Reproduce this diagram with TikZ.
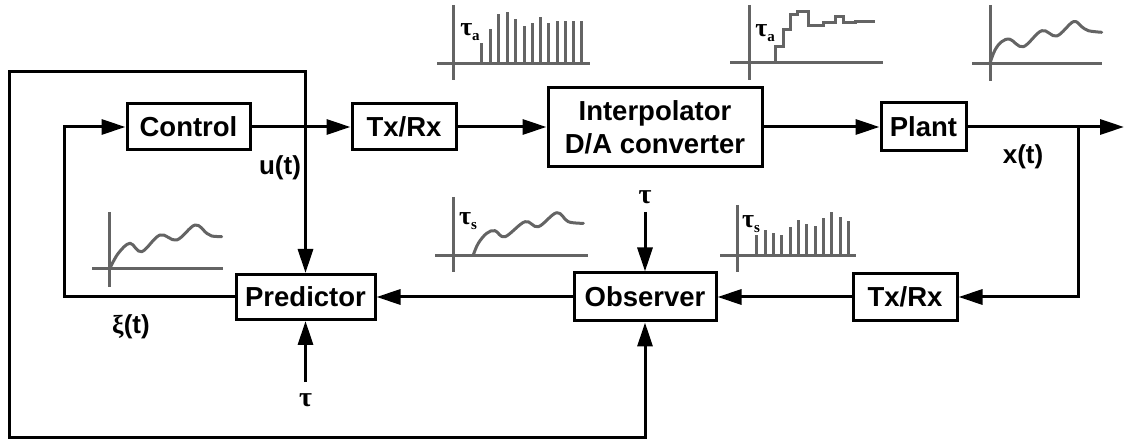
\documentclass[tikz,border=0pt]{standalone}
\usepackage{fontspec}
\setmainfont{Liberation Sans}
\newfontfamily\serifgreek{Liberation Serif}
\usetikzlibrary{arrows.meta}
\definecolor{plotgray}{RGB}{100,100,100}
\begin{document}
\begin{tikzpicture}[x=1pt,y=-1pt,
  box/.style={draw, line width=3pt, inner sep=0pt, align=center,
    font=\fontsize{27.5}{33}\selectfont\bfseries},
  wire/.style={line width=3pt},
  arr/.style={wire, -{Triangle[length=24pt,width=15pt]}},
  arrtwo/.style={wire, {Triangle[length=24pt,width=15pt]}-{Triangle[length=24pt,width=15pt]}},
  lbl/.style={inner sep=0pt, font=\fontsize{26}{30}\selectfont\bfseries},
  taulbl/.style={inner sep=0pt, font=\serifgreek\fontsize{28}{30}\selectfont\bfseries},
  plbl/.style={inner sep=0pt, font=\serifgreek\fontsize{26}{26}\selectfont\bfseries},
  pl/.style={plotgray, line width=3pt},
  crv/.style={plotgray, line width=3pt, line join=round, line cap=round}
]
\useasboundingbox (0,0) rectangle (1124,443);

% blocks
\node[box, minimum width=123pt, minimum height=46pt] (ctrl) at (188.5,127) {Control};
\node[box, minimum width=104pt, minimum height=46pt] (tx1) at (404,127) {Tx/Rx};
\node[box, minimum width=214pt, minimum height=79pt] (interp) at (655,127) {Interpolator\\D/A converter};
\node[box, minimum width=85pt, minimum height=48pt] (plant) at (923.5,127) {Plant};
\node[box, minimum width=139pt, minimum height=45pt] (pred) at (305.5,297) {Predictor};
\node[box, minimum width=142pt, minimum height=48pt] (obs) at (645,297) {Observer};
\node[box, minimum width=104pt, minimum height=47pt] (tx2) at (905,297) {Tx/Rx};

% coordinates for connectors
\coordinate (out) at (1124,127);
\coordinate (br) at (1078,127);
\coordinate (brd) at (1078,297);
\coordinate (fbl) at (64,297);
\coordinate (fbt) at (64,127);
\coordinate (olt) at (9,72);
\coordinate (otr) at (305.5,72);
\coordinate (olb) at (9,437);
\coordinate (obr) at (645,437);
\coordinate (tauP) at (305.5,382);
\coordinate (tauO) at (645,212);

% connectors
\draw[arr] (ctrl.east) -- (tx1.west);
\draw[arr] (tx1.east) -- (interp.west);
\draw[arr] (interp.east) -- (plant.west);
\draw[arr] (plant.east) -- (out);
\draw[arr] (br) -- (brd) -- (tx2.east);
\draw[arr] (tx2.west) -- (obs.east);
\draw[arr] (obs.west) -- (pred.east);
\draw[arr] (pred.west) -- (fbl) -- (fbt) -- (ctrl.west);
\draw[arrtwo] (obs.south) -- (obr) -- (olb) -- (olt) -- (otr) -- (pred.north);
\draw[arr] (tauP) -- (pred.south);
\draw[arr] (tauO) -- (obs.north);

% labels
\node[lbl] (ut) at (280,168) {u(t)};
\node[lbl] (xt) at (1023,157) {x(t)};
\node[lbl] (xit) at (131,327) {{\serifgreek ξ}(t)};
\node[taulbl] (tp) at (305.5,400) {τ};
\node[taulbl] (to) at (645,197) {τ};

% plot 1: sampled bars (top left)
\draw[pl] (453,5) -- (453,80);
\draw[pl] (437,64) -- (590,64);
\foreach \x/\t in {481.7/43.3, 490/29.3, 498.7/14, 507/11.7, 515.7/19.3, 524/26,
  532/22.7, 540.5/16.7, 548.5/23.3, 557/20.7, 565/20.7, 573.3/20.7, 581.7/20.7}
  \draw[pl] (\x,64) -- (\x,\t);
\node[plbl] (ta1) at (470,32) {τ\lower5pt\hbox{\fontsize{15}{15}\selectfont a}};

% plot 2: staircase
\draw[pl] (749,5) -- (749,80);
\draw[pl] (730,63) -- (883,63);
\draw[pl, line join=miter] (775,63) -- (775,46.7) -- (783,46.7) -- (783,30) -- (790,30) -- (790,15)
  -- (797,15) -- (797,12) -- (808,12) -- (808,26) -- (823,26) -- (823,23) -- (835,23)
  -- (835,17) -- (843,17) -- (843,23) -- (855,23) -- (855,21.5) -- (875,21.5);
\node[plbl] (ta2) at (765,33) {τ\lower5pt\hbox{\fontsize{15}{15}\selectfont a}};

% plot 3: continuous output (top right)
\draw[pl] (990,5) -- (990,81);
\draw[pl] (972,64) -- (1102,64);
\draw[crv] plot[smooth, tension=0.6] coordinates {(990,63) (995,50) (1001.7,41.7) (1010,39.3)
  (1023.3,46.7) (1041.7,30.7) (1056.7,36) (1073.3,21.7) (1081.7,26.7) (1088.3,30.7) (1101.7,32.3)};

% plot 4: predicted (left)
\draw[pl] (109,212) -- (109,287);
\draw[pl] (92,269) -- (223,269);
\draw[crv] plot[smooth, tension=0.6] coordinates {(110,268) (118.3,253.3) (130,243.3) (141.7,251.7)
  (160,235) (176.7,240) (195,225) (206.7,233.3) (211.7,236) (221.7,236.7)};

% plot 5: observed, delayed (middle)
\draw[pl] (453,197) -- (453,272);
\draw[pl] (435,256) -- (588,256);
\draw[crv] plot[smooth, tension=0.6] coordinates {(473.3,255) (478.3,243.3) (486.7,233.3) (495,230.7)
  (505,236.7) (525,221.7) (538.3,226.7) (556.7,212.7) (568.3,221.7) (583.3,223.3)};
\node[plbl] (ts1) at (468,221) {τ\lower5pt\hbox{\fontsize{15}{15}\selectfont s}};

% plot 6: sampled bars (lower right)
\draw[pl] (737,205) -- (737,272);
\draw[pl] (720,256) -- (856,256);
\foreach \x/\t in {756.7/235, 765/230, 773.3/233.3, 781.7/235, 790/226.7, 798.3/220,
  806.7/224.3, 815/225.7, 823.3/218.3, 831.7/211.7, 840/217.3, 848.3/220.7}
  \draw[pl] (\x,256) -- (\x,\t);
\node[plbl] (ts2) at (751,224) {τ\lower5pt\hbox{\fontsize{15}{15}\selectfont s}};
\end{tikzpicture}
\end{document}
